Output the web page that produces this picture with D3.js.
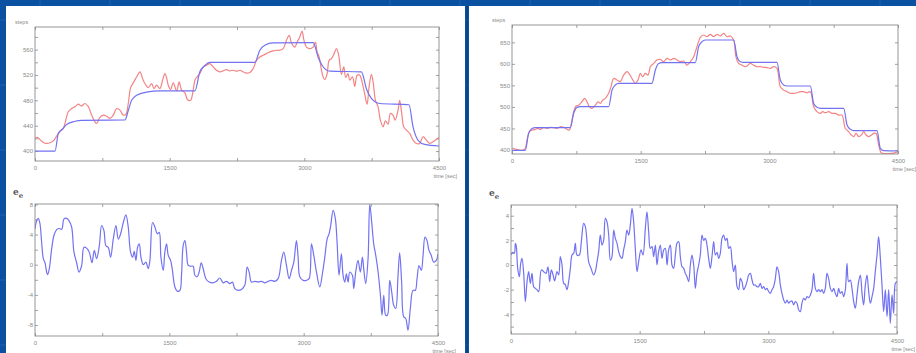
<!DOCTYPE html>
<html>
<head>
<meta charset="utf-8">
<script src="https://cdn.jsdelivr.net/npm/d3@7/dist/d3.min.js"></script>
<style>
  html, body { margin: 0; padding: 0; background: #0a51a1; }
  svg { display: block; }
  .tick text { font-family: 'Liberation Sans', Arial, sans-serif; font-size: 6px; fill: #8a8a8a; }
  .axis path.domain { display: none; }
  .tick line { stroke: #8a8a8a; stroke-width: 0.8; }
</style>
</head>
<body>
<div id="chart"></div>
<script>
// time [sec], steps — left experiment, setpoint (blue) and measured (red)
const leftStepsSetpoint = [[0,400],[223,400],[260,428],[315,436],[352,442],[445,447],[520,448.5],[1002,449],[1039,464],[1076,480],[1132,488],[1243,493],[1391,495],[1781,495],[1836,525],[1892,535],[1948,540],[2449,540],[2504,559],[2560,567],[2653,570.5],[3098,571],[3154,548],[3209,533],[3284,526],[3636,525],[3692,498],[3747,483],[3840,475],[4166,473],[4211,438],[4267,417],[4341,410.5],[4500,408]];

const leftStepsMeasured = [[0,420],[26,421.5],[56,418],[93,413.6],[130,412],[167,413],[204,416],[241,423.6],[278,430.4],[315,435.7],
  [371,462],[408,467],[445,470],[482,474],[519,471],[557,475],[594,470],[631,456.7],[668,446],[686,443.5],
  [723,453],[761,456.7],[798,455],[835,451.4],[872,456.7],[909,467],[946,464.5],[983,456.7],[1013,458],[1039,475],
  [1065,500],[1094,507.6],[1132,517],[1169,525],[1198,514.4],[1224,506.5],[1261,500],[1299,506.5],[1325,498.6],[1354,504],
  [1391,498.6],[1421,511.8],[1447,522],[1465,516],[1484,504],[1510,497],[1540,507.6],[1577,495],[1606,509],[1632,496],
  [1670,491.8],[1699,481],[1733,480],[1762,496],[1781,511.8],[1799,516],[1836,522],[1874,532.7],[1911,535.4],[1948,538],
  [1985,532.7],[2022,527.5],[2059,525],[2096,526.5],[2133,528.5],[2170,526.5],[2207,527.5],[2245,526],[2282,527.5],[2319,525],
  [2356,523],[2393,524],[2430,530],[2467,543],[2504,548.5],[2541,551],[2578,553.7],[2616,556.4],[2653,558],[2690,559],
  [2727,559],[2764,561.6],[2801,574.7],[2831,582.6],[2857,570.5],[2894,564],[2920,572],[2949,580],[2975,589.4],[2994,575.8],
  [3024,564],[3061,561.6],[3098,564],[3124,572],[3142,556.4],[3165,548.5],[3191,527.5],[3209,517],[3228,512.8],[3254,522],
  [3276,543],[3302,545.9],[3332,553.7],[3358,561.6],[3383,551],[3413,521],[3439,532.7],[3461,516],[3487,522],[3506,511.8],
  [3536,517],[3562,502],[3588,519.6],[3617,519.6],[3647,506.5],[3673,489.7],[3699,474],[3721,501],[3747,521],[3766,509],
  [3792,480],[3821,470],[3847,448.8],[3877,438.3],[3903,447.7],[3933,442.5],[3958,459.3],[3988,456.7],[4011,448.8],[4044,464.5],
  [4062,480],[4085,459.3],[4107,438.3],[4137,433],[4174,427.8],[4211,417.3],[4248,412],[4285,412],[4322,422.6],[4359,417.3],
  [4396,412],[4433,414.7],[4500,421.5]];

// e_e, left experiment
const leftError = [[0,4.75],[19,5.85],[37,6.15],[56,5.4],[74,3.0],[93,0.8],[112,0.26],[130,-0.97],[141,-1.3],[160,-0.5],
  [186,2.1],[212,3.9],[242,4.66],[271,4.8],[298,4.7],[324,6.07],[353,6.15],[379,5.85],[409,5.0],[435,1.67],
  [465,0.26],[491,-0.97],[521,-0.1],[547,2.3],[576,2.2],[606,1.67],[636,0.26],[662,1.9],[688,0.8],[718,2.5],
  [744,5.2],[770,4.5],[792,2.5],[818,2.3],[844,1.0],[874,3.4],[904,5.2],[930,3.4],[956,4.1],[986,5.6],
  [1015,6.6],[1041,5.0],[1067,1.67],[1090,1.0],[1108,1.76],[1127,0.57],[1145,2.3],[1164,2.77],[1183,1.0],[1209,0.0],
  [1238,0.35],[1264,-0.53],[1283,0.57],[1313,5.6],[1339,5.0],[1365,4.1],[1387,4.3],[1406,1.0],[1432,-0.75],[1450,1.67],
  [1469,2.77],[1488,1.23],[1514,0.57],[1532,-0.53],[1562,-2.95],[1588,-3.5],[1618,-3.4],[1636,-1.4],[1655,2.55],[1674,3.2],
  [1692,1.67],[1711,-0.1],[1737,-0.2],[1766,-0.2],[1785,-1.4],[1811,-1.6],[1833,-0.97],[1856,0.26],[1878,-0.53],[1908,-1.85],
  [1945,-2.3],[1990,-2.4],[2027,-2.2],[2064,-1.76],[2101,-2.4],[2138,-2.2],[2176,-2.5],[2205,-2.3],[2231,-3.17],[2269,-3.4],
  [2306,-3.3],[2343,-2.7],[2369,-0.3],[2391,-0.97],[2417,-2.3],[2455,-2.2],[2492,-2.3],[2529,-2.2],[2566,-2.4],[2603,-2.2],
  [2640,-2.07],[2678,-2.2],[2715,-1.85],[2752,0.57],[2778,1.67],[2808,-0.1],[2838,-1.85],[2864,-0.75],[2890,0.35],[2919,3.2],
  [2938,1.0],[2957,-1.6],[2994,-2.07],[3031,-2.07],[3061,-1.85],[3087,2.77],[3113,1.23],[3143,-0.97],[3180,-2.95],[3209,-1.2],
  [3236,1.0],[3262,3.4],[3284,4.1],[3302,5.2],[3329,7.2],[3354,6.07],[3373,3.0],[3395,-1.4],[3421,1.45],[3440,-1.4],
  [3459,-2.3],[3477,-1.2],[3496,-2.3],[3515,-0.97],[3544,-1.4],[3559,-3.17],[3581,-0.97],[3607,0.57],[3633,-0.97],[3656,1.0],
  [3674,-0.97],[3693,-2.5],[3719,0.8],[3738,8.0],[3760,5.6],[3782,2.77],[3805,1.23],[3831,-0.97],[3857,-4.05],[3875,-6.7],
  [3894,-4.05],[3916,-6.7],[3935,-6.7],[3961,-2.07],[3983,-3.6],[4005,-5.36],[4028,-5.8],[4053,-1.6],[4072,1.58],[4094,-2.3],
  [4117,-6.9],[4139,-7.1],[4165,-8.66],[4191,-5.8],[4221,-3.4],[4247,-3.4],[4266,-1.85],[4288,-0.1],[4314,-0.75],[4333,1.23],
  [4355,3.65],[4377,3.2],[4399,1.9],[4425,1.23],[4451,0.35],[4481,0.57],[4500,1.45]];

// right experiment
const rightStepsSetpoint = [[0,399],[155,399],[194,438.7],[233,450],[272,452],[680,452],[719,485],[758,499],[797,500.6],[1127,500.6],[1166,539],[1205,551],[1244,554.8],[1632,554.8],[1671,585.8],[1710,601],[1749,602.8],[2137,602.8],[2176,640],[2215,651.5],[2254,655.4],[2584,655.4],[2623,616.7],[2662,605],[2701,603.6],[3089,603.6],[3128,562.5],[3167,551],[3206,548.6],[3478,548.6],[3517,508],[3556,499],[3595,496.7],[3867,496.7],[3906,458],[3945,448],[3984,444.9],[4255,444.9],[4294,403.9],[4333,398.5],[4500,397.7]];

const rightStepsMeasured = [[0,404],[39,402],[78,400],[117,399],[155,404],[175,423],[202,442.6],[233,446],[272,448],[303,450],
  [330,448],[369,451.9],[408,450],[447,452.6],[486,451.9],[525,450],[563,454],[602,452.6],[641,448],[668,446],
  [692,462],[719,489],[746,502],[777,504],[816,512],[847,520],[874,512],[902,500.6],[933,496.7],[972,504],
  [1003,512],[1030,508],[1057,516],[1088,520],[1127,531.6],[1154,547],[1185,566],[1224,562.5],[1263,558.7],[1302,574],
  [1341,581.9],[1368,576.5],[1399,566],[1438,554.8],[1469,562.5],[1496,578],[1523,570],[1554,578],[1586,574],[1613,593.5],
  [1652,601],[1690,609],[1729,610.5],[1768,605],[1807,612.8],[1846,609],[1885,612.8],[1924,609],[1962,605],[2001,606.5],
  [2040,597],[2079,605],[2118,616.7],[2157,640],[2196,661.6],[2235,667],[2273,663],[2312,668.6],[2351,663],[2390,668.6],
  [2429,664.7],[2468,670.9],[2506,663],[2545,664.7],[2584,655.4],[2611,616.7],[2642,601],[2681,597],[2720,593.5],[2751,597],
  [2779,601],[2817,597],[2856,593.5],[2895,593.5],[2934,592],[2973,591.2],[3012,589.6],[3051,593.5],[3089,589.6],[3128,547],
  [3167,539],[3206,535.4],[3245,531.6],[3284,531.6],[3323,533],[3361,535.4],[3400,535.4],[3439,533],[3478,535.4],[3517,500.6],
  [3556,489],[3595,485],[3622,489],[3653,486.6],[3692,489],[3731,485],[3769,485],[3808,481],[3847,481],[3886,450],
  [3925,442.6],[3956,434.8],[3984,431],[4011,438.7],[4042,431],[4073,434.8],[4100,442.6],[4127,434.8],[4158,431],[4190,434.8],
  [4217,438.7],[4244,438.7],[4275,411.6],[4306,393],[4345,391.5],[4383,391.5],[4422,392],[4469,393.8],[4500,396]];

const rightError = [[0,0.81],[19,1.03],[39,0.95],[51,1.76],[62,1.5],[78,-0.27],[97,-0.95],[113,0.14],[128,0.54],[148,-0.68],
  [167,-2.97],[187,-1.35],[206,-0.54],[225,-1.49],[245,-0.68],[264,-1.76],[284,-1.9],[303,-2.0],[323,-2.16],[354,-0.4],
  [381,-0.54],[408,-0.68],[431,-0.14],[451,-1.35],[470,-0.4],[490,-0.8],[509,-1.3],[536,-0.54],[556,-0.8],[575,0.68],
  [595,0.0],[614,-1.49],[633,-1.6],[653,-2.0],[672,-1.35],[692,-0.27],[711,0.81],[731,0.95],[750,1.76],[769,0.81],
  [797,0.81],[820,1.9],[847,3.38],[867,3.1],[886,1.9],[905,0.27],[933,-0.27],[964,-0.81],[983,-0.54],[1003,0.27],
  [1022,1.08],[1041,2.43],[1061,1.62],[1080,2.0],[1100,3.78],[1119,3.5],[1139,2.43],[1158,0.4],[1177,0.68],[1197,2.84],
  [1216,2.16],[1236,1.76],[1255,1.08],[1275,0.68],[1294,0.54],[1313,1.22],[1333,1.9],[1352,2.84],[1372,2.43],[1391,3.24],
  [1411,4.6],[1430,3.5],[1449,1.35],[1469,-0.54],[1488,0.27],[1516,1.22],[1539,0.81],[1566,2.97],[1585,4.32],[1605,2.7],
  [1624,1.35],[1644,1.5],[1663,0.68],[1683,1.62],[1702,0.0],[1721,1.08],[1741,1.62],[1760,0.54],[1780,1.22],[1799,1.35],
  [1819,0.0],[1838,1.22],[1858,1.62],[1877,0.0],[1896,-0.27],[1916,0.81],[1935,1.76],[1955,1.9],[1974,0.68],[1994,-0.14],
  [2013,-0.27],[2032,-0.68],[2052,-0.95],[2071,-1.35],[2091,0.0],[2110,0.81],[2130,0.0],[2149,-1.9],[2168,-0.68],[2188,0.0],
  [2207,0.81],[2227,2.43],[2246,2.0],[2266,2.16],[2285,1.62],[2304,0.54],[2324,-0.27],[2343,0.68],[2363,1.9],[2382,0.81],
  [2402,1.03],[2421,0.54],[2440,0.95],[2460,2.16],[2479,2.43],[2499,2.0],[2518,2.16],[2538,1.35],[2557,1.5],[2576,0.4],
  [2596,-0.54],[2615,0.0],[2635,-1.76],[2654,-2.0],[2674,-1.08],[2693,-1.35],[2712,-2.0],[2732,-1.76],[2751,-1.35],[2771,-0.81],
  [2790,-0.68],[2810,-1.22],[2829,-1.62],[2848,-1.62],[2868,-1.76],[2887,-1.76],[2907,-1.49],[2926,-1.9],[2946,-1.76],[2965,-2.0],
  [2984,-1.9],[3004,-2.16],[3023,-2.3],[3043,-2.0],[3062,-1.76],[3082,-1.08],[3101,-0.14],[3120,-0.54],[3140,-1.62],[3159,-2.3],
  [3179,-2.84],[3198,-3.1],[3218,-2.84],[3237,-3.1],[3256,-2.97],[3276,-2.92],[3295,-3.24],[3315,-2.97],[3334,-3.1],[3354,-3.65],
  [3373,-3.78],[3392,-3.1],[3412,-2.7],[3431,-2.84],[3451,-2.57],[3470,-2.65],[3490,-2.43],[3509,-2.0],[3528,-0.68],[3548,-1.9],
  [3567,-2.16],[3587,-2.0],[3606,-2.16],[3626,-2.0],[3645,-2.3],[3664,-1.9],[3684,-0.68],[3703,-1.08],[3723,-1.9],[3742,-2.16],
  [3762,-1.9],[3781,-2.3],[3800,-2.57],[3820,-1.9],[3839,-2.3],[3859,-2.16],[3878,-2.57],[3898,-2.0],[3917,0.14],[3936,-1.35],
  [3956,-1.22],[3975,-1.9],[3995,-2.97],[4014,-3.51],[4034,-2.43],[4053,-1.35],[4073,-0.81],[4092,-2.3],[4111,-3.24],[4131,-1.62],
  [4150,-0.81],[4170,-2.16],[4189,-3.1],[4209,-2.57],[4228,-1.9],[4247,-0.54],[4267,0.81],[4286,2.3],[4306,0.54],[4325,-1.62],
  [4345,-3.78],[4364,-2.0],[4384,-4.19],[4403,-2.0],[4422,-4.73],[4442,-2.43],[4461,-3.92],[4481,-1.49],[4500,-1.35]];

// tick values
const timeTicks = [0, 750, 1500, 2250, 3000, 3750, 4500];
const timeLabels = [0, 1500, 3000, 4500];
const leftStepsTicks = [400, 420, 440, 460, 480, 500, 520, 540, 560, 580];
const leftStepsLabels = [400, 440, 480, 520, 560];
const leftErrorTicks = [-8, -6, -4, -2, 0, 2, 4, 6, 8];
const leftErrorLabels = [-8, -4, 0, 4, 8];
const rightStepsTicks = [400, 450, 500, 550, 600, 650];
const rightErrorTicks = [-5, -4, -3, -2, -1, 0, 1, 2, 3, 4];
const rightErrorLabels = [-4, -2, 0, 2, 4];

const W = 916, H = 353;
const BLUE = '#7272f2', RED = '#f38484';

const svg = d3.select('#chart').append('svg')
  .attr('width', W).attr('height', H);

// soft look of the scanned slide
const defs = svg.append('defs');
defs.append('filter').attr('id', 'soft')
  .append('feGaussianBlur').attr('stdDeviation', 0.35);

// slide background with faint template grid
svg.append('rect').attr('width', W).attr('height', H).attr('fill', '#0a51a1');
const bgGrid = svg.append('g').attr('stroke', '#3a78c0').attr('stroke-width', 0.7).attr('opacity', 0.6);
d3.range(40, W, 70).forEach(x => bgGrid.append('line').attr('x1', x).attr('x2', x).attr('y1', 0).attr('y2', H));
d3.range(20, H, 65).forEach(y => bgGrid.append('line').attr('x1', 0).attr('x2', W).attr('y1', y).attr('y2', y));

// white panels
svg.append('rect').attr('x', 6).attr('y', 6).attr('width', 459).attr('height', H - 6).attr('fill', '#fff');
svg.append('rect').attr('x', 469).attr('y', 6).attr('width', W - 469).attr('height', H - 6).attr('fill', '#fff');
svg.append('line').attr('x1', 467).attr('x2', 467).attr('y1', 6).attr('y2', H)
  .attr('stroke', '#063f80').attr('stroke-width', 1.2);

function drawChart(cfg) {
  const x = d3.scaleLinear().domain([0, 4500]).range([cfg.x0, cfg.x1]);
  const y = d3.scaleLinear().domain(cfg.yDomain).range([cfg.y1, cfg.y0]);
  const g = svg.append('g');

  const fmtX = d => timeLabels.includes(d) ? String(d) : '';
  const fmtY = d => cfg.yLabels.includes(d) ? String(d) : '';

  g.append('g').attr('class', 'axis')
    .attr('transform', `translate(0,${cfg.y1})`)
    .call(d3.axisBottom(x).tickValues(timeTicks).tickSize(-3).tickPadding(5).tickFormat(fmtX));
  g.append('g').attr('class', 'axis')
    .attr('transform', `translate(0,${cfg.y0})`)
    .call(d3.axisTop(x).tickValues(timeTicks).tickSize(-3).tickFormat(''));
  g.append('g').attr('class', 'axis')
    .attr('transform', `translate(${cfg.x0},0)`)
    .call(d3.axisLeft(y).tickValues(cfg.yTicks).tickSize(-3).tickPadding(2).tickFormat(fmtY));
  g.append('g').attr('class', 'axis')
    .attr('transform', `translate(${cfg.x1},0)`)
    .call(d3.axisRight(y).tickValues(cfg.yTicks).tickSize(-3).tickFormat(''));

  const clipId = 'clip-' + cfg.id;
  defs.append('clipPath').attr('id', clipId).append('rect')
    .attr('x', cfg.x0).attr('y', cfg.y0).attr('width', cfg.x1 - cfg.x0).attr('height', cfg.y1 - cfg.y0);

  const lines = g.append('g').attr('clip-path', `url(#${clipId})`).append('g').attr('filter', 'url(#soft)');
  cfg.series.forEach(s => {
    const line = d3.line()
      .x(d => x(d[0])).y(d => y(d[1]))
      .curve(s.smooth ? d3.curveMonotoneX : d3.curveCatmullRom.alpha(0.5));
    lines.append('path').datum(s.data)
      .attr('fill', 'none')
      .attr('stroke', s.color)
      .attr('stroke-width', 1.2)
      .attr('stroke-linejoin', 'round')
      .attr('d', line);
  });

  g.append('rect')
    .attr('x', cfg.x0).attr('y', cfg.y0)
    .attr('width', cfg.x1 - cfg.x0).attr('height', cfg.y1 - cfg.y0)
    .attr('fill', 'none').attr('stroke', '#8a8a8a').attr('stroke-width', 0.9);

  g.append('text')
    .attr('x', cfg.x1 + 18).attr('y', cfg.y1 + 17)
    .attr('text-anchor', 'end')
    .style('font-family', "'Liberation Sans', Arial, sans-serif")
    .style('font-size', '5.5px').style('fill', '#8a8a8a')
    .text('time [sec]');

  if (cfg.yTitle === 'steps') {
    g.append('text')
      .attr('x', cfg.x0 - 20).attr('y', cfg.y0 - 3)
      .style('font-family', "'Liberation Sans', Arial, sans-serif")
      .style('font-size', '5.5px').style('fill', '#8a8a8a')
      .text('steps');
  } else {
    const t = g.append('text')
      .attr('x', cfg.x0 - 22).attr('y', cfg.y0 - 9)
      .style('font-family', "'DejaVu Serif', serif")
      .style('font-size', '9px').style('font-weight', 'bold').style('fill', '#555');
    t.append('tspan').text('e');
    t.append('tspan').attr('dy', 3).style('font-size', '7px').text('e');
  }
}

drawChart({ id: 'lt', x0: 35, x1: 439, y0: 27, y1: 161, yDomain: [384.3, 595.7],
  yTicks: leftStepsTicks, yLabels: leftStepsLabels, yTitle: 'steps',
  series: [{ data: leftStepsMeasured, color: RED }, { data: leftStepsSetpoint, color: BLUE, smooth: true }] });

drawChart({ id: 'lb', x0: 35, x1: 438, y0: 204, y1: 336, yDomain: [-9.45, 8.05],
  yTicks: leftErrorTicks, yLabels: leftErrorLabels, yTitle: 'e',
  series: [{ data: leftError, color: BLUE }] });

drawChart({ id: 'rt', x0: 512, x1: 898, y0: 25, y1: 154, yDomain: [390.7, 690.2],
  yTicks: rightStepsTicks, yLabels: rightStepsTicks, yTitle: 'steps',
  series: [{ data: rightStepsMeasured, color: RED }, { data: rightStepsSetpoint, color: BLUE, smooth: true }] });

drawChart({ id: 'rb', x0: 511, x1: 897, y0: 205, y1: 334, yDomain: [-5.6, 4.87],
  yTicks: rightErrorTicks, yLabels: rightErrorLabels, yTitle: 'e',
  series: [{ data: rightError, color: BLUE }] });
</script>
</body>
</html>
